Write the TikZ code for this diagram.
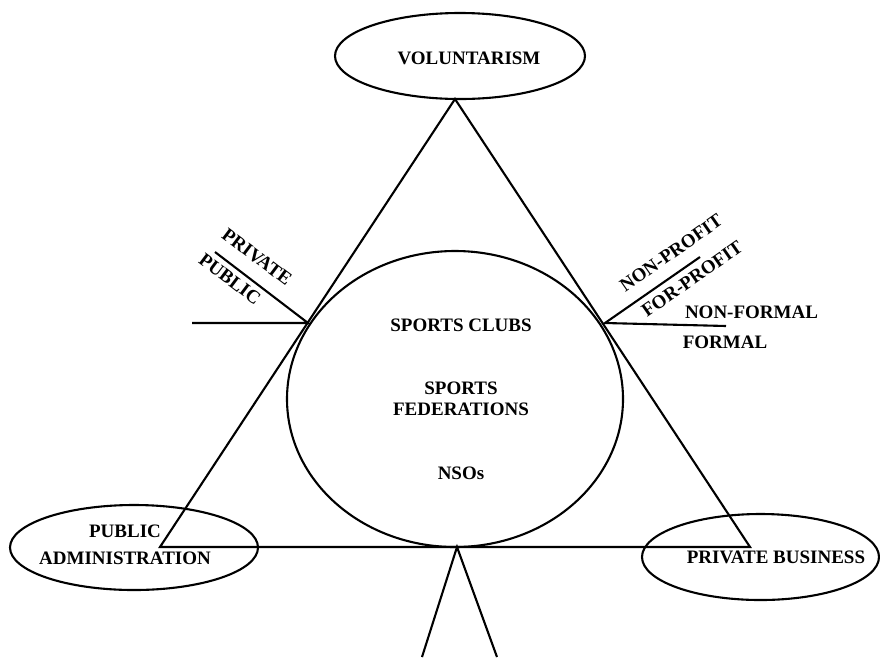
\documentclass[tikz,border=0pt]{standalone}
\usepackage{fontspec}
\setmainfont{Liberation Serif}
\usetikzlibrary{shapes.geometric}
\begin{document}
\begin{tikzpicture}[x=1pt,y=-1pt,
  line width=2.1pt,
  lbl/.style={font=\bfseries\fontsize{19}{21}\selectfont, inner sep=0pt, align=center},
  oval/.style={draw, ellipse, inner sep=0pt}]
\useasboundingbox (0,0) rectangle (880,657);

% the three sectors
\node[oval, minimum width=250pt, minimum height=86pt] (vol) at (460,56) {};
\node[oval, minimum width=248pt, minimum height=85pt] (pub) at (134,547.5) {};
\node[oval, minimum width=237pt, minimum height=86pt] (biz) at (760.5,557) {};

% triangle joining them
\coordinate (apex) at (455,99);
\coordinate (bl) at (160,547);
\coordinate (br) at (750,547);
\draw[line join=miter] (apex) -- (bl) -- (br) -- cycle;

% central organisations
\node[oval, minimum width=336pt, minimum height=296pt] (core) at (455,399) {};

% left divider: private / public
\coordinate (lp) at (308,323);
\coordinate (lh) at (192,323);
\coordinate (ld) at (215,252);
\draw (lh) -- (lp) -- (ld);

% right dividers: profit and formality
\coordinate (rp) at (605,323);
\coordinate (rd) at (700,257);
\coordinate (rh) at (726,326);
\draw (rd) -- (rp) -- (rh);

% lower fork
\coordinate (fk) at (457,547);
\coordinate (fl) at (422,657);
\coordinate (fr) at (497,657);
\draw (fl) -- (fk) -- (fr);

% labels
\node[lbl] (tvol) at (469,58) {VOLUNTARISM};
\node[lbl] (tpub1) at (125,531) {PUBLIC};
\node[lbl] (tpub2) at (125,558) {ADMINISTRATION};
\node[lbl] (tbiz) at (776,557) {PRIVATE BUSINESS};

\node[lbl] (tclub) at (461,325) {SPORTS CLUBS};
\node[lbl] (tfed) at (461,398.5) {SPORTS\\FEDERATIONS};
\node[lbl] (tnso) at (461,473) {NSOs};

\node[lbl, rotate=-37] (tpriv) at (257,257) {PRIVATE};
\node[lbl, rotate=-37] (tpubl) at (230,279) {PUBLIC};
\node[lbl, rotate=35] (tnp) at (671,253) {NON-PROFIT};
\node[lbl, rotate=35] (tfp) at (692,279) {FOR-PROFIT};
\node[lbl] (tnf) at (751.5,312) {NON-FORMAL};
\node[lbl] (tf) at (725,342) {FORMAL};
\end{tikzpicture}
\end{document}
